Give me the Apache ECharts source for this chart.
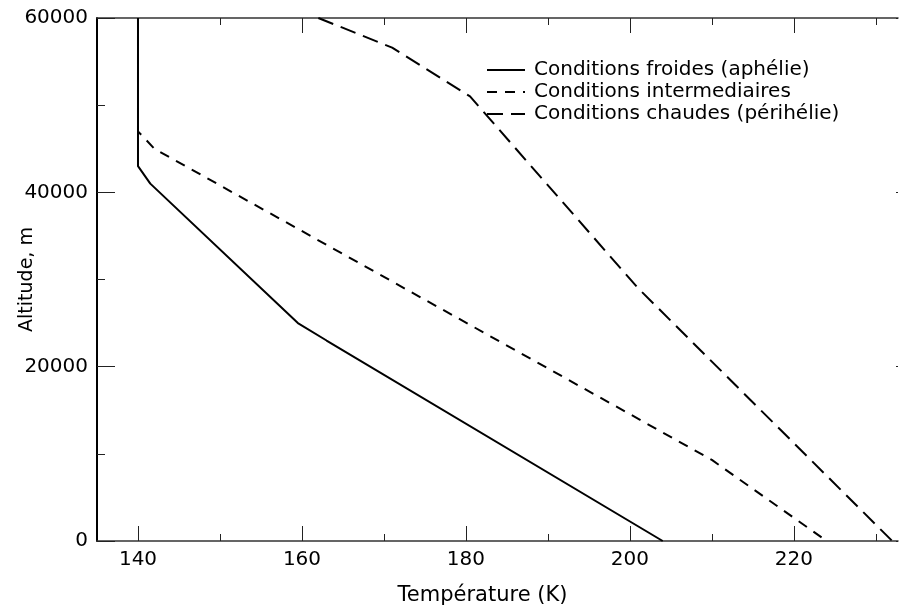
<!DOCTYPE html>
<html>
<head>
<meta charset="utf-8">
<script src="https://cdn.jsdelivr.net/npm/echarts@6/dist/echarts.min.js"></script>
<style>html,body{margin:0;padding:0;background:#fff}#c{width:906px;height:614px}</style>
</head>
<body>
<div id="c"></div>
<script>
// ---- data ----
var seriesNames = ['Conditions froides (aphélie)', 'Conditions intermediaires', 'Conditions chaudes (périhélie)'];
var coldT   = [140, 140, 141.5, 159.5, 163, 204];
var coldAlt = [60000, 43000, 41000, 25000, 23000, 0];
var midT    = [140, 140, 142, 210, 224];
var midAlt  = [60000, 47000, 45000, 9300, 0];
var hotT    = [162, 171, 180.5, 201, 232];
var hotAlt  = [60000, 56600, 51000, 29000, 0];
var xMajorTicks = [140, 160, 180, 200, 220];
var xMinorTicks = [150, 170, 190, 210, 230];
var yMajorTicks = [0, 20000, 40000, 60000];
var yMinorTicks = [10000, 30000, 50000];
var xTitle = 'Température (K)';
var yTitle = 'Altitude, m';

function pairs(xs, ys) { return xs.map(function (x, i) { return [x, ys[i]]; }); }

var FONT = 'DejaVu Sans';
var XMIN = 135, XMAX = 232.7;
var chart = echarts.init(document.getElementById('c'), null, { renderer: 'canvas' });

function plain(v) { return String(v); }

function xAx(pos, ticks, len, showLabel, showLine) {
  return {
    type: 'value', position: pos, min: XMIN, max: XMAX,
    splitLine: { show: false },
    axisLine: { show: showLine, onZero: false, lineStyle: { color: '#333', width: 1.5 } },
    axisTick: { show: true, inside: true, length: len, customValues: ticks, lineStyle: { color: '#222', width: 1 } },
    axisLabel: showLabel ? { show: true, customValues: ticks, formatter: plain, color: '#000', fontFamily: FONT, fontSize: 20, margin: 9 } : { show: false }
  };
}
function yAx(pos, ticks, len, showLabel, showLine) {
  return {
    type: 'value', position: pos, min: 0, max: 60000,
    splitLine: { show: false },
    axisLine: { show: showLine, onZero: false, lineStyle: { color: '#000', width: 2 } },
    axisTick: { show: true, inside: true, length: len, customValues: ticks, lineStyle: { color: '#222', width: 1 } },
    axisLabel: showLabel ? { show: true, customValues: ticks, formatter: plain, color: '#000', fontFamily: FONT, fontSize: 20, margin: 9 } : { show: false }
  };
}

var xAxes = [
  xAx('bottom', xMajorTicks, 15, true, true),
  xAx('bottom', xMinorTicks, 7, false, false),
  xAx('top', xMajorTicks, 15, false, true),
  xAx('top', xMinorTicks, 7, false, false)
];
xAxes[0].name = xTitle;
xAxes[0].nameLocation = 'middle';
xAxes[0].nameGap = 44;
xAxes[0].nameMoveOverlap = false;
xAxes[0].nameTextStyle = { color: '#000', fontFamily: FONT, fontSize: 21, padding: [0, 30, 0, 0] };

var yAxes = [
  yAx('left', yMajorTicks, 18, true, true),
  yAx('left', yMinorTicks, 8, false, false),
  yAx('right', yMajorTicks, 2, false, false)
];
yAxes[0].name = yTitle;
yAxes[0].nameLocation = 'middle';
yAxes[0].nameGap = 60;
yAxes[0].nameMoveOverlap = false;
yAxes[0].nameTextStyle = { color: '#000', fontFamily: FONT, fontSize: 19 };

function ser(name, data, type) {
  return {
    name: name, type: 'line', data: data, symbol: 'none', showSymbol: false, xAxisIndex: 0, yAxisIndex: 0,
    color: '#000', lineStyle: { color: '#000', width: 2, type: type }, animation: false, z: 3
  };
}

chart.setOption({
  animation: false,
  backgroundColor: '#fff',
  grid: { left: 97, right: 8, top: 18, bottom: 73, containLabel: false, outerBoundsMode: 'none' },
  legend: {
    orient: 'vertical', left: 481, top: 55, itemWidth: 38, itemHeight: 14, itemGap: 2,
    itemStyle: { opacity: 0 },
    textStyle: { color: '#000', fontFamily: FONT, fontSize: 20, padding: [0, 0, 0, 4] },
    data: seriesNames
  },
  xAxis: xAxes,
  yAxis: yAxes,
  series: [
    ser(seriesNames[0], pairs(coldT, coldAlt), 'solid'),
    ser(seriesNames[1], pairs(midT, midAlt), [10, 8]),
    ser(seriesNames[2], pairs(hotT, hotAlt), [16, 8])
  ]
});
</script>
</body>
</html>
